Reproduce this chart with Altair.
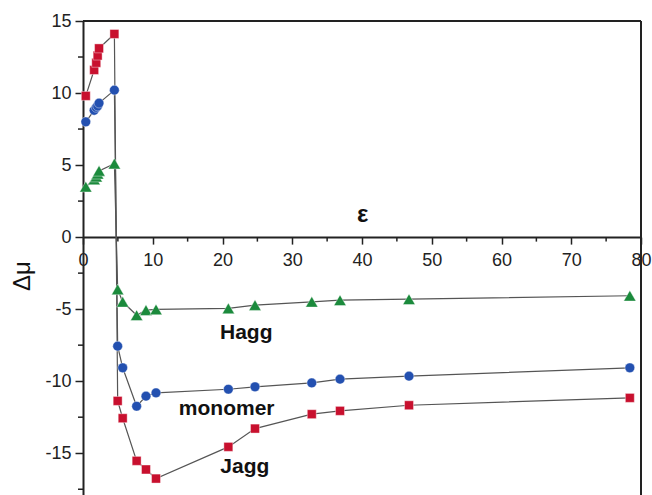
import altair as alt
import pandas as pd

# ---- data ----
eps = [0.4, 1.6, 1.9, 2.1, 2.3, 4.5, 4.97, 5.69, 7.69, 9.03, 10.47, 20.84, 24.66, 32.8, 36.85, 46.74, 78.4]
jagg = [9.8, 11.6, 12.1, 12.6, 13.1, 14.1, -11.37, -12.57, -15.53, -16.13, -16.76, -14.56, -13.29, -12.29, -12.06, -11.67, -11.16]
monomer = [8.0, 8.8, 9.0, 9.1, 9.3, 10.2, -7.57, -9.07, -11.74, -11.04, -10.81, -10.56, -10.39, -10.12, -9.86, -9.65, -9.07]
hagg = [3.5, 4.0, 4.2, 4.4, 4.6, 5.1, -3.63, -4.49, -5.42, -5.07, -5.02, -4.95, -4.72, -4.49, -4.38, -4.31, -4.07]

series_names = ["Jagg", "monomer", "Hagg"]
series_colors = ["#c8102e", "#2350b0", "#1b8a3c"]
series_shapes = ["square", "circle", "triangle-up"]
series_sizes = [80, 95, 150]

x_ticks = [0, 10, 20, 30, 40, 50, 60, 70, 80]
x_minor = [5, 15, 25, 35, 45, 55, 65, 75]
y_ticks = [-15, -10, -5, 0, 5, 10, 15]
y_minor = [-17.5, -12.5, -7.5, -2.5, 2.5, 7.5, 12.5]

ann_text = ["Hagg", "monomer", "Jagg"]
ann_x = [23.4, 20.6, 23.2]
ann_y = [-7.08, -12.36, -16.39]

# ---- layout ----
W, H = 558, 474
X_DOM = [0, 80]
Y_DOM = [-17.9, 15]
y0_px = (Y_DOM[1] - 0) / (Y_DOM[1] - Y_DOM[0]) * H

rows = []
for name, vals in zip(series_names, [jagg, monomer, hagg]):
    for e, v in zip(eps, vals):
        rows.append({"eps": e, "dmu": v, "series": name})
df = pd.DataFrame(rows)

xs = alt.Scale(domain=X_DOM, nice=False, zero=False)
ys = alt.Scale(domain=Y_DOM, nice=False, zero=False)

FONT = "Liberation Sans"
AX = "#222222"

x_axis = alt.Axis(values=x_ticks, offset=-(H - y0_px), tickSize=7, tickWidth=1.5, tickColor=AX,
                  domainColor=AX, domainWidth=2, labelFontSize=18, labelFont=FONT, labelColor=AX,
                  labelPadding=7, labelFlush=False, labelOverlap=False, grid=False, title="")
y_axis = alt.Axis(values=y_ticks, tickSize=8, tickWidth=1.5, tickColor=AX, domainColor=AX,
                  domainWidth=2, labelFontSize=18, labelFont=FONT, labelColor=AX, labelPadding=4,
                  labelFlush=False, labelOverlap=False, grid=False, title="",
                  labelExpr="replace(datum.label, '\u2212', '-')")

base = alt.Chart(df)

lines = base.mark_line(color="#555555", strokeWidth=1.2).encode(
    x=alt.X("eps:Q", scale=xs, axis=x_axis),
    y=alt.Y("dmu:Q", scale=ys, axis=y_axis),
    detail="series:N",
)

point_layers = []
for name, col, shp, sz in zip(series_names, series_colors, series_shapes, series_sizes):
    point_layers.append(
        base.transform_filter(alt.datum.series == name).mark_point(
            filled=True, opacity=1, shape=shp, size=sz, color=col, stroke="white", strokeWidth=0.4
        ).encode(x=alt.X("eps:Q", scale=xs), y=alt.Y("dmu:Q", scale=ys))
    )

xm = alt.Chart(pd.DataFrame({"v": x_minor})).mark_rule(color=AX, strokeWidth=1.5).encode(
    x=alt.X("v:Q", scale=xs), y=alt.value(y0_px), y2=alt.value(y0_px + 4.5))
ym = alt.Chart(pd.DataFrame({"v": y_minor})).mark_rule(color=AX, strokeWidth=1.5).encode(
    y=alt.Y("v:Q", scale=ys), x=alt.value(-5), x2=alt.value(0))

top_line = alt.Chart(pd.DataFrame({"a": [0]})).mark_rule(color=AX, strokeWidth=2).encode(
    x=alt.value(0), x2=alt.value(W), y=alt.value(0))
right_line = alt.Chart(pd.DataFrame({"a": [0]})).mark_rule(color=AX, strokeWidth=2).encode(
    x=alt.value(W), y=alt.value(0), y2=alt.value(H))

ann = alt.Chart(pd.DataFrame({"t": ann_text, "x": ann_x, "y": ann_y})).mark_text(
    font=FONT, fontSize=21, fontWeight="bold", color="#111111", align="center", baseline="alphabetic"
).encode(x=alt.X("x:Q", scale=xs), y=alt.Y("y:Q", scale=ys), text="t:N")

eps_label = alt.Chart(pd.DataFrame({"t": ["\u03b5"], "x": [40.1], "y": [1.53]})).mark_text(
    font=FONT, fontSize=24, fontWeight="bold", color="#111111", align="center", baseline="middle"
).encode(x=alt.X("x:Q", scale=xs), y=alt.Y("y:Q", scale=ys), text="t:N")

dmu_label = alt.Chart(pd.DataFrame({"t": ["\u0394\u03bc"]})).mark_text(
    font=FONT, fontSize=24, color="#111111", align="center", baseline="middle", angle=270
).encode(x=alt.value(-60.5), y=alt.value(255), text="t:N")

chart = alt.layer(lines, xm, ym, top_line, right_line, *point_layers, ann, eps_label, dmu_label).properties(
    width=W, height=H,
    padding={"left": 83, "top": 21, "right": 11, "bottom": 0},
    autosize=alt.AutoSizeParams(type="none"),
).configure_view(strokeWidth=0).configure(background="white")

chart.save("out.html", embed_options={"renderer": "svg", "actions": False})
